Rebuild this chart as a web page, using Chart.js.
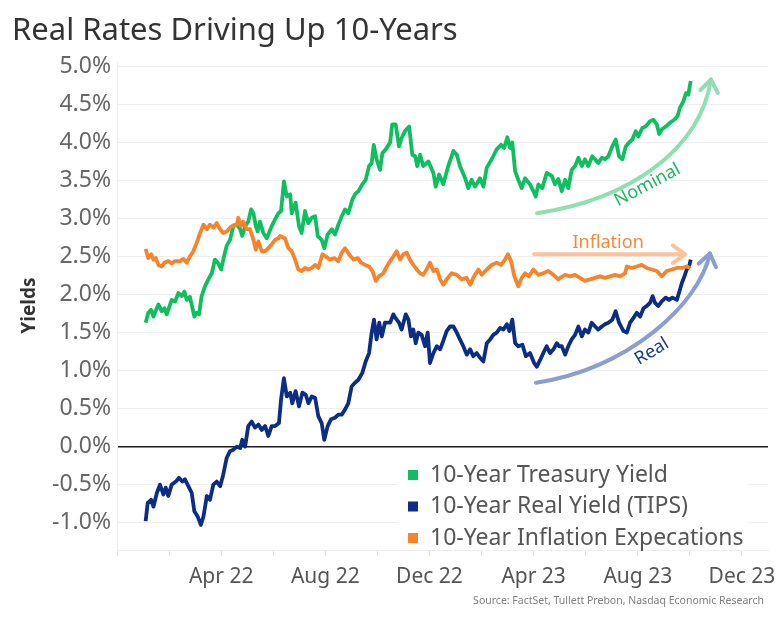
<!DOCTYPE html>
<html>
<head>
<meta charset="utf-8">
<script src="https://cdn.jsdelivr.net/npm/chart.js@4.4.0/dist/chart.umd.min.js"></script>
<style>
  html, body { margin: 0; padding: 0; background: #fff; }
  #wrap { width: 775px; height: 618px; position: relative; }
</style>
</head>
<body>
<div id="wrap"><canvas id="chart"></canvas></div>
<script>
// Each point is [months since 1 Jan 2022, yield in %]
const treasuryYield = [[0.10,1.63],[0.20,1.76],[0.31,1.80],[0.40,1.71],[0.49,1.79],[0.59,1.87],[0.72,1.78],[0.82,1.82],[0.91,1.74],[1.10,1.93],[1.23,1.91],[1.36,2.02],[1.49,1.98],[1.59,2.04],[1.68,1.93],[1.80,1.97],[1.97,1.71],[2.06,1.76],[2.15,1.74],[2.25,1.98],[2.38,2.11],[2.51,2.20],[2.64,2.28],[2.76,2.46],[2.87,2.42],[3.00,2.33],[3.08,2.46],[3.21,2.64],[3.34,2.72],[3.47,2.90],[3.60,2.92],[3.73,2.86],[3.81,2.77],[3.92,2.90],[4.04,2.96],[4.15,3.12],[4.24,3.07],[4.33,2.90],[4.40,2.83],[4.49,2.96],[4.62,2.81],[4.75,2.74],[4.94,2.90],[5.07,2.99],[5.20,3.07],[5.30,3.10],[5.41,3.49],[5.52,3.29],[5.65,3.32],[5.71,3.07],[5.86,3.21],[5.99,2.90],[6.09,2.81],[6.22,3.10],[6.35,2.94],[6.48,3.01],[6.61,3.03],[6.71,2.77],[6.86,2.72],[6.96,2.61],[7.09,2.79],[7.25,2.86],[7.37,2.79],[7.50,2.92],[7.63,3.03],[7.76,3.12],[7.88,3.07],[8.04,3.25],[8.14,3.32],[8.27,3.36],[8.42,3.45],[8.55,3.51],[8.68,3.69],[8.78,3.73],[8.86,3.97],[8.97,3.78],[9.10,3.64],[9.19,3.86],[9.32,3.91],[9.49,4.00],[9.57,4.24],[9.70,4.24],[9.83,3.95],[9.93,4.06],[10.06,4.15],[10.22,4.21],[10.34,3.84],[10.45,3.82],[10.53,3.69],[10.64,3.84],[10.76,3.69],[10.96,3.75],[11.15,3.60],[11.24,3.42],[11.37,3.58],[11.53,3.45],[11.72,3.69],[11.92,3.89],[12.05,3.84],[12.17,3.69],[12.37,3.53],[12.49,3.40],[12.62,3.51],[12.75,3.42],[12.94,3.53],[13.07,3.42],[13.20,3.67],[13.39,3.78],[13.58,3.91],[13.75,3.97],[13.87,3.93],[13.99,4.07],[14.09,3.93],[14.18,4.00],[14.29,3.62],[14.41,3.51],[14.54,3.40],[14.67,3.53],[14.86,3.45],[14.99,3.36],[15.08,3.29],[15.18,3.45],[15.33,3.40],[15.50,3.60],[15.70,3.56],[15.82,3.45],[15.95,3.52],[16.08,3.36],[16.21,3.51],[16.33,3.40],[16.46,3.64],[16.59,3.69],[16.72,3.80],[16.85,3.69],[16.97,3.78],[17.10,3.69],[17.25,3.82],[17.36,3.78],[17.48,3.73],[17.62,3.80],[17.74,3.78],[17.87,3.82],[18.02,3.95],[18.15,4.04],[18.28,3.82],[18.41,3.78],[18.54,3.95],[18.66,4.00],[18.79,4.04],[18.92,4.15],[19.02,4.08],[19.17,4.19],[19.30,4.21],[19.47,4.28],[19.60,4.30],[19.73,4.24],[19.82,4.11],[19.92,4.17],[20.07,4.21],[20.24,4.26],[20.40,4.30],[20.53,4.35],[20.62,4.46],[20.75,4.54],[20.85,4.65],[20.94,4.63],[21.03,4.81]];

const realYield = [[0.10,-0.98],[0.18,-0.74],[0.31,-0.70],[0.40,-0.79],[0.53,-0.61],[0.65,-0.50],[0.78,-0.63],[0.87,-0.54],[0.97,-0.65],[1.10,-0.50],[1.26,-0.46],[1.38,-0.41],[1.51,-0.46],[1.61,-0.43],[1.74,-0.52],[1.87,-0.61],[1.97,-0.85],[2.10,-0.92],[2.22,-1.03],[2.32,-0.92],[2.45,-0.65],[2.57,-0.70],[2.70,-0.50],[2.83,-0.46],[2.96,-0.52],[3.08,-0.37],[3.21,-0.15],[3.34,-0.06],[3.47,-0.04],[3.60,0.00],[3.73,-0.02],[3.81,0.09],[3.92,0.00],[4.04,0.27],[4.17,0.33],[4.30,0.25],[4.43,0.29],[4.56,0.22],[4.69,0.27],[4.81,0.14],[4.94,0.27],[5.07,0.27],[5.22,0.31],[5.30,0.62],[5.41,0.90],[5.52,0.66],[5.65,0.71],[5.73,0.57],[5.86,0.73],[5.99,0.53],[6.12,0.71],[6.25,0.68],[6.35,0.57],[6.48,0.66],[6.61,0.64],[6.73,0.40],[6.86,0.31],[6.96,0.09],[7.09,0.27],[7.22,0.36],[7.37,0.38],[7.50,0.42],[7.63,0.42],[7.76,0.49],[7.88,0.57],[8.01,0.79],[8.14,0.84],[8.27,0.88],[8.42,0.97],[8.55,1.12],[8.68,1.23],[8.78,1.50],[8.87,1.67],[8.97,1.41],[9.07,1.63],[9.17,1.45],[9.29,1.63],[9.49,1.63],[9.61,1.74],[9.70,1.69],[9.83,1.63],[9.93,1.54],[10.09,1.74],[10.19,1.67],[10.29,1.45],[10.38,1.54],[10.47,1.36],[10.57,1.50],[10.70,1.47],[10.83,1.32],[10.93,1.50],[11.02,1.10],[11.15,1.23],[11.28,1.32],[11.41,1.28],[11.53,1.39],[11.66,1.52],[11.79,1.58],[11.92,1.58],[12.05,1.50],[12.17,1.41],[12.30,1.32],[12.43,1.21],[12.56,1.28],[12.68,1.19],[12.81,1.23],[12.94,1.17],[13.07,1.12],[13.20,1.36],[13.33,1.41],[13.45,1.47],[13.58,1.50],[13.71,1.56],[13.84,1.54],[13.97,1.61],[14.07,1.52],[14.18,1.67],[14.29,1.36],[14.41,1.32],[14.57,1.34],[14.70,1.19],[14.86,1.23],[15.02,1.10],[15.12,1.05],[15.25,1.14],[15.37,1.23],[15.50,1.32],[15.63,1.23],[15.76,1.28],[15.89,1.36],[15.98,1.32],[16.08,1.32],[16.21,1.21],[16.33,1.32],[16.46,1.41],[16.59,1.47],[16.72,1.58],[16.85,1.45],[16.97,1.54],[17.10,1.50],[17.23,1.63],[17.36,1.58],[17.48,1.54],[17.62,1.58],[17.74,1.61],[17.87,1.63],[18.02,1.67],[18.15,1.78],[18.28,1.63],[18.45,1.52],[18.58,1.50],[18.70,1.63],[18.83,1.69],[18.96,1.76],[19.09,1.71],[19.22,1.82],[19.34,1.85],[19.47,1.89],[19.57,1.98],[19.66,1.89],[19.79,1.85],[19.92,1.91],[20.07,1.96],[20.20,1.93],[20.33,1.96],[20.50,1.93],[20.58,2.02],[20.69,2.15],[20.79,2.24],[20.88,2.33],[20.97,2.37],[21.03,2.46]];

const inflationExp = [[0.10,2.60],[0.20,2.48],[0.31,2.53],[0.40,2.46],[0.49,2.48],[0.59,2.39],[0.72,2.37],[0.82,2.42],[0.97,2.44],[1.10,2.41],[1.23,2.44],[1.42,2.44],[1.55,2.47],[1.68,2.42],[1.80,2.50],[1.93,2.57],[2.06,2.68],[2.19,2.81],[2.32,2.92],[2.45,2.86],[2.57,2.92],[2.70,2.88],[2.83,2.94],[2.96,2.86],[3.08,2.81],[3.21,2.83],[3.34,2.88],[3.47,2.91],[3.60,2.92],[3.66,3.01],[3.76,2.90],[3.85,2.96],[3.98,2.86],[4.11,2.86],[4.24,2.72],[4.33,2.59],[4.43,2.70],[4.56,2.57],[4.69,2.57],[4.81,2.61],[4.94,2.66],[5.07,2.72],[5.20,2.74],[5.26,2.77],[5.45,2.74],[5.58,2.61],[5.71,2.57],[5.84,2.46],[5.96,2.33],[6.09,2.31],[6.22,2.35],[6.35,2.33],[6.48,2.35],[6.61,2.39],[6.73,2.35],[6.89,2.53],[7.02,2.50],[7.18,2.46],[7.35,2.48],[7.50,2.44],[7.63,2.55],[7.76,2.61],[7.91,2.53],[8.08,2.46],[8.25,2.48],[8.37,2.42],[8.53,2.39],[8.68,2.37],[8.81,2.31],[8.94,2.18],[9.06,2.24],[9.23,2.28],[9.36,2.37],[9.49,2.44],[9.61,2.50],[9.74,2.57],[9.87,2.46],[10.00,2.53],[10.13,2.55],[10.25,2.46],[10.38,2.39],[10.51,2.33],[10.64,2.28],[10.76,2.26],[10.89,2.33],[11.02,2.42],[11.15,2.31],[11.28,2.33],[11.41,2.20],[11.53,2.13],[11.66,2.20],[11.85,2.28],[12.05,2.26],[12.24,2.20],[12.43,2.22],[12.56,2.13],[12.68,2.22],[12.88,2.33],[13.01,2.26],[13.20,2.33],[13.39,2.39],[13.58,2.42],[13.75,2.39],[13.90,2.46],[14.01,2.53],[14.13,2.44],[14.26,2.24],[14.41,2.11],[14.54,2.22],[14.67,2.28],[14.82,2.24],[14.99,2.33],[15.18,2.26],[15.37,2.28],[15.56,2.31],[15.76,2.26],[15.95,2.20],[16.01,2.22],[16.21,2.26],[16.40,2.24],[16.59,2.26],[16.78,2.22],[16.97,2.18],[17.17,2.20],[17.36,2.22],[17.55,2.24],[17.74,2.22],[17.93,2.24],[18.13,2.26],[18.32,2.24],[18.51,2.28],[18.58,2.37],[18.77,2.35],[18.96,2.37],[19.15,2.39],[19.34,2.35],[19.54,2.33],[19.73,2.31],[19.92,2.24],[20.11,2.31],[20.30,2.33],[20.50,2.35],[20.69,2.35],[20.88,2.37],[21.01,2.35]];

const seriesNames = ['10-Year Treasury Yield', '10-Year Real Yield (TIPS)', '10-Year Inflation Expecations'];
const seriesColors = ['#0fbf5f', '#0b2d86', '#f7832c'];

// x ticks every 2 months starting Dec 21 (month -1); label every 4 months
const xTickValues = [-1, 1, 3, 5, 7, 9, 11, 13, 15, 17, 19, 21, 23];
const xTickLabels = { 3: 'Apr 22', 7: 'Aug 22', 11: 'Dec 22', 15: 'Apr 23', 19: 'Aug 23', 23: 'Dec 23' };
const yTickValues = [-1.0, -0.5, 0, 0.5, 1.0, 1.5, 2.0, 2.5, 3.0, 3.5, 4.0, 4.5, 5.0];

// Call-out arrows, in data units [month, %]
const nominalArrow = [[15.13, 3.07], [18.70, 3.25], [21.39, 3.91], [21.81, 4.83]];
const realArrow = [[15.09, 0.84], [18.66, 1.03], [21.35, 1.87], [21.77, 2.54]];
const inflationArrow = [[15.02, 2.53], [20.81, 2.53]];
const arrowLabels = ['Nominal', 'Inflation', 'Real'];
const arrowLabelPos = [[19.37, 3.44], [17.86, 2.68], [19.54, 1.25]];
const arrowLabelAngle = [-28, 0, -31];

const FONT = "'Noto Sans', sans-serif";

// Draws the curved call-out arrows and their labels
const arrowPlugin = {
    id: 'arrows',
    afterDatasetsDraw(chart) {
        const { ctx, scales: { x, y } } = chart;
        const toPx = p => [x.getPixelForValue(p[0]), y.getPixelForValue(p[1])];

        function head(tip, from, color) {
            const ang = Math.atan2(tip[1] - from[1], tip[0] - from[0]);
            const len = 15;
            ctx.beginPath();
            ctx.moveTo(tip[0] + len * Math.cos(ang + Math.PI * 0.8), tip[1] + len * Math.sin(ang + Math.PI * 0.8));
            ctx.lineTo(tip[0], tip[1]);
            ctx.lineTo(tip[0] + len * Math.cos(ang - Math.PI * 0.8), tip[1] + len * Math.sin(ang - Math.PI * 0.8));
            ctx.strokeStyle = color;
            ctx.stroke();
        }

        function curve(points, color) {
            const p = points.map(toPx);
            ctx.beginPath();
            ctx.moveTo(p[0][0], p[0][1]);
            ctx.bezierCurveTo(p[1][0], p[1][1], p[2][0], p[2][1], p[3][0], p[3][1]);
            ctx.strokeStyle = color;
            ctx.stroke();
            head(p[3], p[2], color);
        }

        ctx.save();
        ctx.lineWidth = 4;
        ctx.lineCap = 'round';
        ctx.lineJoin = 'round';
        curve(nominalArrow, '#8fdfb3');
        curve(realArrow, '#8a9ecf');

        const a = toPx(inflationArrow[0]), b = toPx(inflationArrow[1]);
        ctx.beginPath();
        ctx.moveTo(a[0], a[1]);
        ctx.lineTo(b[0], b[1]);
        ctx.strokeStyle = '#fbc29b';
        ctx.stroke();
        head(b, a, '#fbc29b');

        const labelColors = ['#1db75e', '#f58a3b', '#183a8c'];
        ctx.font = '18px ' + FONT;
        ctx.textAlign = 'center';
        ctx.textBaseline = 'middle';
        arrowLabels.forEach((txt, i) => {
            const p = toPx(arrowLabelPos[i]);
            ctx.save();
            ctx.translate(p[0], p[1]);
            ctx.rotate(arrowLabelAngle[i] * Math.PI / 180);
            ctx.fillStyle = labelColors[i];
            ctx.fillText(txt, 0, 0);
            ctx.restore();
        });
        ctx.restore();
    }
};

// Tableau-style legend box sitting inside the plot, plus the source line
const legendPlugin = {
    id: 'boxLegend',
    afterDatasetsDraw(chart) {
        const { ctx, chartArea } = chart;
        const left = chartArea.left + 281;
        const top = chartArea.bottom - 96;
        ctx.save();
        ctx.fillStyle = '#ffffff';
        ctx.fillRect(left, top, 350, 95);
        ctx.font = '23px ' + FONT;
        ctx.textBaseline = 'middle';
        seriesNames.forEach((name, i) => {
            const cy = top + 21 + i * 31.5;
            ctx.fillStyle = seriesColors[i];
            ctx.fillRect(left + 10, cy - 5, 10, 10);
            ctx.fillStyle = '#555555';
            ctx.fillText(name, left + 32, cy);
        });
        ctx.restore();
    },
    afterDraw(chart) {
        const { ctx } = chart;
        ctx.save();
        ctx.font = '10.5px ' + FONT;
        ctx.fillStyle = '#808080';
        ctx.textAlign = 'right';
        ctx.textBaseline = 'middle';
        ctx.fillText('Source: FactSet, Tullett Prebon, Nasdaq Economic Research', 764, 601);
        ctx.restore();
    }
};

const lineStyle = {
    borderWidth: 3.8,
    pointRadius: 0,
    pointHoverRadius: 0,
    tension: 0,
    fill: false,
    borderJoinStyle: 'round'
};

new Chart(document.getElementById('chart'), {
    type: 'line',
    data: {
        datasets: [
            { label: seriesNames[2], data: inflationExp, borderColor: seriesColors[2], ...lineStyle },
            { label: seriesNames[0], data: treasuryYield, borderColor: seriesColors[0], ...lineStyle },
            { label: seriesNames[1], data: realYield, borderColor: seriesColors[1], ...lineStyle }
        ]
    },
    options: {
        responsive: true,
        maintainAspectRatio: false,
        animation: false,
        layout: { padding: { left: 12, right: 7, top: 0, bottom: 28 } },
        scales: {
            x: {
                type: 'linear',
                min: -1,
                max: 24,
                afterBuildTicks: scale => { scale.ticks = xTickValues.map(v => ({ value: v })); },
                afterFit: scale => { scale.height = 40; scale.paddingLeft = 0; scale.paddingRight = 0; },
                grid: { drawOnChartArea: false, drawTicks: true, tickLength: 6, color: '#e3e3e3' },
                border: { display: true, color: '#eeeeee' },
                ticks: {
                    autoSkip: false,
                    maxRotation: 0,
                    padding: 8,
                    color: '#555555',
                    font: { family: FONT, size: 21 },
                    callback: v => xTickLabels[v] || ''
                }
            },
            y: {
                min: -1.36,
                max: 5.07,
                afterBuildTicks: scale => { scale.ticks = yTickValues.map(v => ({ value: v })); },
                afterFit: scale => { scale.width = 105; scale.paddingTop = 0; scale.paddingBottom = 0; },
                grid: {
                    drawTicks: false,
                    color: c => (c.tick && c.tick.value === 0) ? '#1a1a1a' : '#efefef',
                    lineWidth: c => (c.tick && c.tick.value === 0) ? 1.6 : 1
                },
                border: { display: true, color: '#eeeeee' },
                ticks: {
                    padding: 6,
                    color: '#666666',
                    font: { family: FONT, size: 23 },
                    callback: v => v.toFixed(1) + '%'
                },
                title: {
                    display: true,
                    text: 'Yields',
                    color: '#333333',
                    font: { family: FONT, size: 19, weight: 'bold' },
                    padding: { top: 6, bottom: 0 }
                }
            }
        },
        plugins: {
            legend: { display: false },
            tooltip: { enabled: false },
            title: {
                display: true,
                text: 'Real Rates Driving Up 10-Years',
                align: 'start',
                color: '#333333',
                font: { family: FONT, size: 31, weight: 'normal' },
                padding: { top: 13, bottom: 11 }
            }
        }
    },
    plugins: [arrowPlugin, legendPlugin]
});
</script>
</body>
</html>
